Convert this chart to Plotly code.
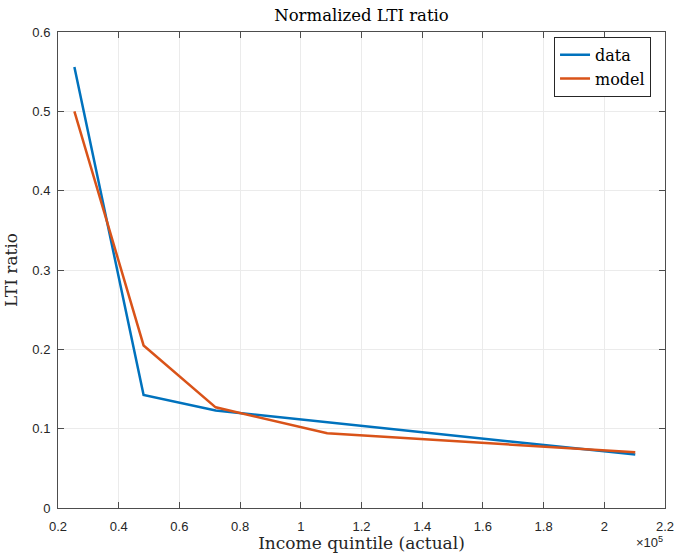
import plotly.graph_objects as go

income = [25400, 48200, 71950, 108700, 210200]
data_lti = [0.556, 0.1424, 0.123, 0.1082, 0.0673]
model_lti = [0.5, 0.2049, 0.1269, 0.0942, 0.0702]

x_tickvals = [20000, 40000, 60000, 80000, 100000, 120000, 140000, 160000, 180000, 200000, 220000]
x_ticktext = ["0.2", "0.4", "0.6", "0.8", "1", "1.2", "1.4", "1.6", "1.8", "2", "2.2"]
y_tickvals = [0, 0.1, 0.2, 0.3, 0.4, 0.5, 0.6]
y_ticktext = ["0", "0.1", "0.2", "0.3", "0.4", "0.5", "0.6"]

serif = "DejaVu Serif"
sans = "Liberation Sans"
axcol = "#4d4d4d"

fig = go.Figure()
fig.add_trace(go.Scatter(x=income, y=data_lti, mode="lines", name="data",
                         line=dict(color="#0072BD", width=2.5)))
fig.add_trace(go.Scatter(x=income, y=model_lti, mode="lines", name="model",
                         line=dict(color="#D95319", width=2.5)))

axis_common = dict(showgrid=True, gridcolor="#ebebeb", gridwidth=1,
                   showline=True, linecolor=axcol, linewidth=1, mirror="ticks",
                   ticks="inside", ticklen=6, tickcolor=axcol, tickwidth=1,
                   zeroline=False, automargin=False,
                   tickfont=dict(family=sans, size=13, color="#262626"))

fig.update_xaxes(range=[20000, 220000], tickvals=x_tickvals, ticktext=x_ticktext,
                 ticklabelstandoff=6,
                 title=dict(text="Income quintile (actual)", font=dict(family=serif, size=17, color="#262626"), standoff=2),
                 **axis_common)
fig.update_yaxes(range=[0, 0.6], tickvals=y_tickvals, ticktext=y_ticktext,
                 ticklabelstandoff=4,
                 title=dict(text="LTI ratio", font=dict(family=serif, size=17, color="#262626"), standoff=10),
                 **axis_common)

fig.add_annotation(text="×10<sup>5</sup>", xref="paper", yref="paper", x=1.0, y=0,
                   xanchor="right", yanchor="top", yshift=-24, showarrow=False,
                   font=dict(family=sans, size=13, color="#262626"))

fig.update_layout(
    width=678, height=553,
    margin=dict(l=58, r=13, t=32, b=45),
    paper_bgcolor="white", plot_bgcolor="white",
    title=dict(text="Normalized LTI ratio", x=0.5, xanchor="center", xref="paper",
               y=1 - 15 / 553, yanchor="middle",
               font=dict(family=serif, size=16.5, color="#000000")),
    legend=dict(x=0.977, y=0.99, xanchor="right", yanchor="top",
                bgcolor="white", bordercolor="#262626", borderwidth=1,
                font=dict(family=serif, size=16, color="#000000"),
                tracegroupgap=0, itemwidth=30),
    showlegend=True,
)

fig.write_html("out.html")
